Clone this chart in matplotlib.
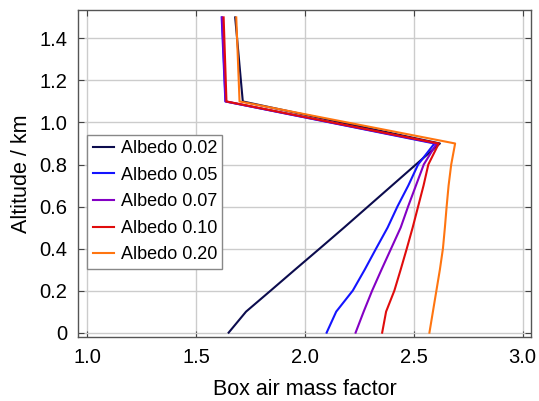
import matplotlib
matplotlib.use("Agg")
import matplotlib.pyplot as plt
from matplotlib.ticker import FuncFormatter

plt.rcParams['font.family'] = ['Liberation Sans', 'DejaVu Sans']

# altitude levels (km)
altitude = [0.0, 0.1, 0.2, 0.3, 0.4, 0.5, 0.6, 0.7, 0.8, 0.9, 1.1, 1.5]

# box air mass factor for each surface albedo
bamf_002 = [1.65, 1.73, 1.843, 1.955, 2.068, 2.18, 2.29, 2.40, 2.51, 2.62, 1.715, 1.68]
bamf_005 = [2.10, 2.144, 2.22, 2.275, 2.327, 2.38, 2.425, 2.475, 2.52, 2.595, 1.635, 1.618]
bamf_007 = [2.233, 2.27, 2.309, 2.352, 2.396, 2.44, 2.474, 2.51, 2.546, 2.605, 1.636, 1.62]
bamf_010 = [2.355, 2.373, 2.411, 2.44, 2.468, 2.495, 2.52, 2.545, 2.567, 2.615, 1.64, 1.627]
bamf_020 = [2.572, 2.588, 2.604, 2.62, 2.634, 2.643, 2.651, 2.66, 2.672, 2.69, 1.70, 1.685]

labels = ["Albedo 0.02", "Albedo 0.05", "Albedo 0.07", "Albedo 0.10", "Albedo 0.20"]
colors = ["#0c0c4e", "#1414ff", "#8400c4", "#e00c0c", "#ff7510"]
series = [bamf_002, bamf_005, bamf_007, bamf_010, bamf_020]

fig = plt.figure(figsize=(5.39, 4.01), dpi=100)
ax = fig.add_axes([0.145, 0.16, 0.84, 0.815])

for vals, lab, col in zip(series, labels, colors):
    ax.plot(vals, altitude, color=col, lw=1.5, label=lab)

ax.set_xlim(0.959, 3.038)
ax.set_ylim(-0.02, 1.535)
ax.set_xticks([1.0, 1.5, 2.0, 2.5, 3.0])
ax.set_yticks([0, 0.2, 0.4, 0.6, 0.8, 1.0, 1.2, 1.4])
ax.yaxis.set_major_formatter(FuncFormatter(lambda v, p: "0" if abs(v) < 1e-9 else "%.1f" % v))
ax.xaxis.set_major_formatter(FuncFormatter(lambda v, p: "%.1f" % v))

ax.grid(True, color="#cccccc", lw=1)
ax.set_axisbelow(True)
ax.tick_params(direction="in", top=True, right=True, labelsize=14.5, length=4,
               color="#444444")
ax.tick_params(axis="x", pad=8)
ax.tick_params(axis="y", pad=8)
for s in ax.spines.values():
    s.set_color("#555555")
    s.set_linewidth(1)

ax.set_xlabel("Box air mass factor", fontsize=15.5, labelpad=9)
ax.set_ylabel("Altitude / km", fontsize=15.5, labelpad=5)

leg = ax.legend(loc="upper left", bbox_to_anchor=(0.0, 0.646), fontsize=13,
                fancybox=False, framealpha=1, edgecolor="#888888",
                handlelength=1.2, handletextpad=0.35, borderpad=0.3,
                labelspacing=0.53, borderaxespad=0.5)
leg.get_frame().set_linewidth(1)

fig.savefig("out.png", dpi=100)
